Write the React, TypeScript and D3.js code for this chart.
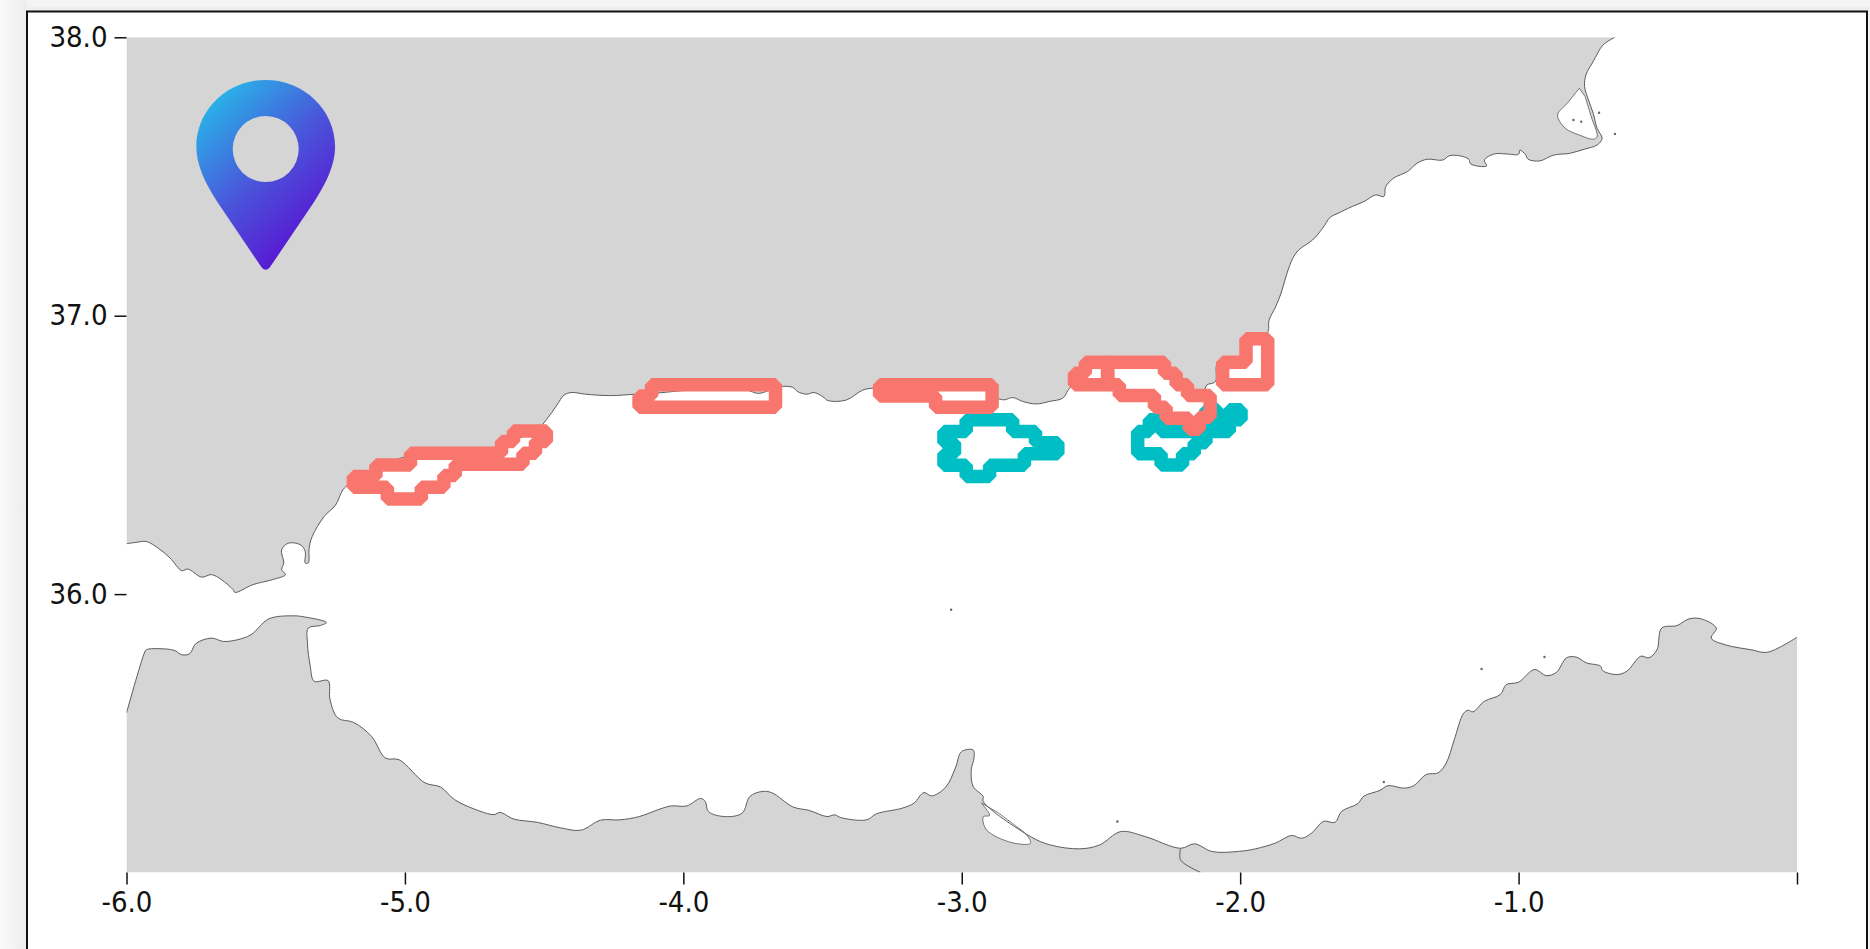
import * as d3 from "d3";
import React from "react";

type LonLat = [number, number];

// axis ticks
const lonTicks = [-6, -5, -4, -3, -2, -1, 0];
const latTicks = [36, 37, 38];

// north shore, from the top edge of the map going west
const spainCoast: LonLat[] = [
  [-0.654, 38.0], [-0.697, 37.972], [-0.732, 37.913], [-0.758, 37.865], [-0.763, 37.823], [-0.749, 37.775],
  [-0.732, 37.727], [-0.718, 37.673], [-0.7, 37.637], [-0.718, 37.613], [-0.761, 37.599], [-0.817, 37.583],
  [-0.874, 37.577], [-0.924, 37.556], [-0.966, 37.562], [-0.974, 37.577], [-0.995, 37.595], [-1.0, 37.58],
  [-1.044, 37.581], [-1.087, 37.581], [-1.123, 37.559], [-1.115, 37.538], [-1.172, 37.545], [-1.179, 37.562],
  [-1.215, 37.575], [-1.25, 37.574], [-1.272, 37.559], [-1.328, 37.562], [-1.364, 37.548], [-1.399, 37.518],
  [-1.449, 37.494], [-1.477, 37.464], [-1.484, 37.428], [-1.513, 37.434], [-1.555, 37.41], [-1.598, 37.392],
  [-1.648, 37.368], [-1.676, 37.354], [-1.704, 37.314], [-1.74, 37.272], [-1.79, 37.236], [-1.811, 37.206],
  [-1.832, 37.152], [-1.853, 37.081], [-1.875, 37.027], [-1.896, 36.985], [-1.903, 36.937], [-1.991, 36.901],
  [-2.003, 36.841], [-2.081, 36.829], [-2.089, 36.763], [-2.12, 36.751], [-2.135, 36.722], [-2.207, 36.757],
  [-2.254, 36.805], [-2.278, 36.829], [-2.428, 36.815], [-2.494, 36.823], [-2.565, 36.805], [-2.607, 36.746],
  [-2.619, 36.731], [-2.637, 36.704], [-2.685, 36.692], [-2.733, 36.683], [-2.781, 36.692], [-2.817, 36.706],
  [-2.847, 36.698], [-2.871, 36.704], [-2.889, 36.74], [-3.092, 36.734], [-3.313, 36.74], [-3.355, 36.733],
  [-3.415, 36.697], [-3.48, 36.695], [-3.499, 36.709], [-3.531, 36.724], [-3.557, 36.718], [-3.589, 36.727],
  [-3.608, 36.743], [-3.653, 36.745], [-3.73, 36.721], [-3.774, 36.733], [-3.967, 36.733], [-4.108, 36.721],
  [-4.172, 36.718], [-4.262, 36.713], [-4.351, 36.718], [-4.403, 36.724], [-4.428, 36.715], [-4.454, 36.679],
  [-4.492, 36.626], [-4.531, 36.584], [-4.608, 36.554], [-4.672, 36.527], [-4.8, 36.506], [-4.992, 36.494],
  [-5.095, 36.458], [-5.197, 36.398], [-5.223, 36.374], [-5.249, 36.32], [-5.29, 36.279], [-5.333, 36.207],
  [-5.344, 36.165], [-5.347, 36.112], [-5.358, 36.112], [-5.358, 36.153], [-5.375, 36.177], [-5.418, 36.183],
  [-5.443, 36.159], [-5.435, 36.112], [-5.443, 36.088], [-5.429, 36.07], [-5.475, 36.052], [-5.546, 36.034],
  [-5.61, 36.006], [-5.617, 36.016], [-5.659, 36.052], [-5.695, 36.07], [-5.73, 36.061], [-5.78, 36.09],
  [-5.801, 36.084], [-5.844, 36.13], [-5.886, 36.165], [-5.929, 36.189], [-5.964, 36.186], [-6, 36.181],
];

// south shore, from the left edge of the map going east
const africaCoast: LonLat[] = [
  [-6, 35.573], [-5.936, 35.788], [-5.929, 35.8], [-5.886, 35.804], [-5.829, 35.798], [-5.801, 35.782],
  [-5.773, 35.786], [-5.751, 35.822], [-5.695, 35.842], [-5.652, 35.83], [-5.602, 35.836], [-5.553, 35.854],
  [-5.489, 35.911], [-5.404, 35.922], [-5.361, 35.918], [-5.282, 35.898], [-5.304, 35.887], [-5.347, 35.878],
  [-5.35, 35.824], [-5.34, 35.741], [-5.326, 35.687], [-5.276, 35.689], [-5.269, 35.621], [-5.241, 35.555],
  [-5.184, 35.539], [-5.12, 35.489], [-5.07, 35.411], [-5.021, 35.405], [-4.928, 35.322], [-4.872, 35.307],
  [-4.822, 35.262], [-4.751, 35.228], [-4.68, 35.208], [-4.659, 35.216], [-4.609, 35.192], [-4.524, 35.18],
  [-4.439, 35.16], [-4.368, 35.152], [-4.297, 35.188], [-4.229, 35.189], [-4.158, 35.201], [-4.087, 35.227],
  [-4.044, 35.239], [-3.988, 35.239], [-3.938, 35.266], [-3.921, 35.255], [-3.91, 35.219], [-3.853, 35.201],
  [-3.789, 35.213], [-3.761, 35.273], [-3.718, 35.291], [-3.683, 35.287], [-3.605, 35.235], [-3.548, 35.223],
  [-3.484, 35.201], [-3.456, 35.207], [-3.434, 35.197], [-3.342, 35.189], [-3.306, 35.211], [-3.214, 35.231],
  [-3.172, 35.249], [-3.136, 35.287], [-3.108, 35.275], [-3.058, 35.306], [-3.023, 35.375], [-3.001, 35.434],
  [-2.959, 35.44], [-2.956, 35.411], [-2.966, 35.369], [-2.959, 35.309], [-2.923, 35.273], [-2.923, 35.255],
  [-2.753, 35.129], [-2.682, 35.099], [-2.576, 35.085], [-2.505, 35.099], [-2.429, 35.147], [-2.341, 35.129],
  [-2.214, 35.087], [-2.164, 35.103], [-2.1, 35.075], [-2.003, 35.076], [-1.945, 35.085], [-1.873, 35.106],
  [-1.815, 35.133], [-1.779, 35.123], [-1.743, 35.142], [-1.7, 35.184], [-1.66, 35.18], [-1.635, 35.22],
  [-1.578, 35.247], [-1.556, 35.274], [-1.498, 35.295], [-1.469, 35.312], [-1.412, 35.303], [-1.376, 35.312],
  [-1.332, 35.352], [-1.289, 35.358], [-1.26, 35.393], [-1.231, 35.477], [-1.198, 35.571], [-1.181, 35.583],
  [-1.164, 35.577], [-1.123, 35.615], [-1.066, 35.639], [-1.044, 35.675], [-1.001, 35.683], [-0.943, 35.729],
  [-0.9, 35.707], [-0.864, 35.719], [-0.828, 35.771], [-0.794, 35.774], [-0.756, 35.753], [-0.705, 35.741],
  [-0.698, 35.725], [-0.647, 35.711], [-0.611, 35.723], [-0.561, 35.777], [-0.532, 35.771], [-0.503, 35.8],
  [-0.486, 35.878], [-0.431, 35.887], [-0.388, 35.911], [-0.344, 35.911], [-0.29, 35.878], [-0.308, 35.842],
  [-0.258, 35.818], [-0.164, 35.8], [-0.107, 35.791], [0, 35.845],
];

// lagoons, the border line and the tiny islets
const marMenor: LonLat[] = [
  [-0.782, 37.817], [-0.825, 37.763], [-0.86, 37.721], [-0.832, 37.673], [-0.782, 37.649], [-0.732, 37.634],
  [-0.718, 37.643], [-0.739, 37.715], [-0.761, 37.787],
];
const marChica: LonLat[] = [
  [-2.93, 35.25], [-2.9, 35.205], [-2.923, 35.2], [-2.916, 35.16], [-2.888, 35.135], [-2.81, 35.105],
  [-2.753, 35.105], [-2.767, 35.135], [-2.81, 35.17], [-2.87, 35.215],
];
const moroccoBorder: LonLat[] = [[-2.214, 35.087], [-2.214, 35.045], [-2.143, 35.001]];
const islets: LonLat[] = [
  [-3.038, 35.944], [-2.441, 35.183], [-1.133, 35.731], [-0.907, 35.774], [-1.484, 35.325],
  [-0.654, 37.653], [-0.711, 37.729], [-0.803, 37.703], [-0.775, 37.697],
];

// red zones
const redZones: LonLat[][] = [
  [
    [-5.185, 36.422], [-5.104, 36.422], [-5.104, 36.464], [-4.98, 36.464], [-4.98, 36.506], [-4.653, 36.506],
    [-4.653, 36.548], [-4.61, 36.548], [-4.61, 36.586], [-4.492, 36.586], [-4.492, 36.548], [-4.531, 36.548],
    [-4.531, 36.506], [-4.576, 36.506], [-4.576, 36.466], [-4.819, 36.466], [-4.819, 36.426], [-4.86, 36.426],
    [-4.86, 36.384], [-4.941, 36.384], [-4.941, 36.342], [-5.063, 36.342], [-5.063, 36.384], [-5.185, 36.384],
  ],
  [
    [-4.114, 36.752], [-3.669, 36.752], [-3.669, 36.671], [-4.159, 36.671], [-4.159, 36.712], [-4.114, 36.712],
  ],
  [
    [-3.295, 36.752], [-2.891, 36.752], [-2.891, 36.671], [-3.094, 36.671], [-3.094, 36.712], [-3.295, 36.712],
  ],
  [
    [-2.556, 36.833], [-2.476, 36.833], [-2.476, 36.752], [-2.595, 36.752], [-2.595, 36.793], [-2.556, 36.793],
  ],
  [
    [-2.476, 36.833], [-2.272, 36.833], [-2.272, 36.793], [-2.23, 36.793], [-2.23, 36.752], [-2.189, 36.752],
    [-2.189, 36.713], [-2.108, 36.713], [-2.108, 36.635], [-2.147, 36.635], [-2.147, 36.592], [-2.183, 36.592],
    [-2.183, 36.632], [-2.266, 36.632], [-2.266, 36.671], [-2.308, 36.671], [-2.308, 36.713], [-2.434, 36.713],
    [-2.434, 36.752], [-2.476, 36.752],
  ],
  [
    [-1.979, 36.917], [-1.901, 36.917], [-1.901, 36.752], [-2.063, 36.752], [-2.063, 36.833], [-1.979, 36.833],
  ],
];

// teal zones
const tealZones: LonLat[][] = [
  [
    [-2.984, 36.626], [-2.817, 36.626], [-2.817, 36.584], [-2.735, 36.584], [-2.735, 36.544], [-2.655, 36.544],
    [-2.655, 36.504], [-2.775, 36.504], [-2.775, 36.463], [-2.9, 36.463], [-2.9, 36.422], [-2.984, 36.422],
    [-2.984, 36.463], [-3.064, 36.463], [-3.064, 36.504], [-3.026, 36.504], [-3.026, 36.544], [-3.064, 36.544],
    [-3.064, 36.584], [-2.984, 36.584],
  ],
  [
    [-2.368, 36.584], [-2.326, 36.584], [-2.326, 36.626], [-2.284, 36.626], [-2.284, 36.584], [-2.039, 36.584],
    [-2.039, 36.626], [-1.997, 36.626], [-1.997, 36.662], [-2.039, 36.662], [-2.039, 36.626], [-2.081, 36.626],
    [-2.081, 36.584], [-2.123, 36.584], [-2.123, 36.544], [-2.165, 36.544], [-2.165, 36.504], [-2.207, 36.504],
    [-2.207, 36.464], [-2.284, 36.464], [-2.284, 36.504], [-2.368, 36.504],
  ],
  [
    [-2.123, 36.584], [-2.123, 36.662], [-2.081, 36.662], [-2.081, 36.626],
  ],
];

const pinLon = -5.5;
const pinLat = 37.162;

const App: React.FC = () => {
  const ref = React.useRef<SVGSVGElement | null>(null);

  React.useEffect(() => {
    const svg = d3.select(ref.current);
    svg.selectAll("*").remove();

    const x = d3.scaleLinear().domain([-6, 0]).range([126.5, 1797]);
    const y = d3.scaleLinear().domain([35, 38]).range([872.5, 37.3]);
    const line = d3.line<LonLat>().x((d) => x(d[0])).y((d) => y(d[1]));
    const shore = d3.line<LonLat>().x((d) => x(d[0])).y((d) => y(d[1])).curve(d3.curveCatmullRom.alpha(0.5));

    const defs = svg.append("defs");
    defs.append("clipPath").attr("id", "map-clip").append("rect")
      .attr("x", x(-6)).attr("y", y(38))
      .attr("width", x(0) - x(-6)).attr("height", y(35) - y(38));
    const pinGrad = defs.append("linearGradient").attr("id", "pin-grad")
      .attr("x1", "0.12").attr("y1", "0.1").attr("x2", "0.72").attr("y2", "0.95");
    pinGrad.append("stop").attr("offset", "0").attr("stop-color", "#29b3e8");
    pinGrad.append("stop").attr("offset", "0.5").attr("stop-color", "#4a55da");
    pinGrad.append("stop").attr("offset", "1").attr("stop-color", "#5a10d2");
    const edgeGrad = defs.append("linearGradient").attr("id", "edge-grad");
    edgeGrad.append("stop").attr("offset", "0").attr("stop-color", "#fbfbfb");
    edgeGrad.append("stop").attr("offset", "1").attr("stop-color", "#ececec");

    // page and card
    svg.append("rect").attr("width", 1870).attr("height", 949).attr("fill", "#f4f4f4");
    svg.append("rect").attr("width", 27).attr("height", 949).attr("fill", "url(#edge-grad)");
    svg.append("rect").attr("y", 7).attr("x", 27).attr("width", 1843).attr("height", 5).attr("fill", "#eeeeee");
    svg.append("rect").attr("x", 27).attr("y", 11.5).attr("width", 1840).attr("height", 960)
      .attr("fill", "#fff").attr("stroke", "#111").attr("stroke-width", 2);

    const map = svg.append("g").attr("clip-path", "url(#map-clip)");

    // land
    map.append("path")
      .attr("d", `${shore(spainCoast)}L${x(-6)},${y(38)}Z`)
      .attr("fill", "#d5d5d5");
    map.append("path")
      .attr("d", `${shore(africaCoast)}L${x(0)},${y(35)}L${x(-6)},${y(35)}Z`)
      .attr("fill", "#d5d5d5");
    [marMenor, marChica].forEach((lagoon) => {
      map.append("path").attr("d", shore(lagoon) + "Z").attr("fill", "#fff")
        .attr("stroke", "#666").attr("stroke-width", 0.9);
    });
    [spainCoast, africaCoast, moroccoBorder].forEach((coast) => {
      map.append("path").attr("d", shore(coast)).attr("fill", "none")
        .attr("stroke", "#5c5c5c").attr("stroke-width", 1);
    });
    map.selectAll("circle.islet").data(islets).join("circle").attr("class", "islet")
      .attr("cx", (d) => x(d[0])).attr("cy", (d) => y(d[1])).attr("r", 1.2).attr("fill", "#666");

    // zones
    const drawZones = (zones: LonLat[][], color: string) => {
      zones.forEach((zone) => {
        map.append("path").attr("d", line(zone) + "Z").attr("fill", "none")
          .attr("stroke", color).attr("stroke-width", 13.5)
          .attr("stroke-linejoin", "bevel").attr("stroke-linecap", "round");
      });
    };
    drawZones(tealZones, "#00BFC4");
    drawZones(redZones, "#F8766D");

    // map pin
    svg.append("path")
      .attr("transform", `translate(${x(pinLon)},${y(pinLat)})`)
      .attr("fill", "url(#pin-grad)").attr("fill-rule", "evenodd")
      .attr("d", "M0,-190.7C38.5,-190.7 69.4,-160.5 69.4,-124C69.4,-106 61,-88 48,-68L4,-3Q0,1.5 -4,-3L-48,-68C-61,-88 -69.4,-106 -69.4,-124C-69.4,-160.5 -38.5,-190.7 0,-190.7Z"
        + "M0,-154.5A33,33 0 1,0 0,-88.5A33,33 0 1,0 0,-154.5Z");

    // axes
    const label = (d: d3.NumberValue) => d3.format(".1f")(+d).replace("\u2212", "-");
    const xAxis = d3.axisBottom(x).tickValues(lonTicks).tickSize(12).tickPadding(7)
      .tickFormat((d) => (+d === 0 ? "" : label(d)));
    const yAxis = d3.axisLeft(y).tickValues(latTicks).tickSize(12).tickPadding(7)
      .tickFormat(label);
    const gx = svg.append("g").attr("transform", `translate(0,${y(35)})`).call(xAxis);
    const gy = svg.append("g").attr("transform", `translate(${x(-6)},0)`).call(yAxis);
    [gx, gy].forEach((g) => {
      g.select(".domain").remove();
      g.selectAll("line").attr("stroke", "#111").attr("stroke-width", 1.5);
      g.selectAll("text")
        .attr("fill", "#111")
        .attr("font-family", "'DejaVu Sans Condensed', 'DejaVu Sans', sans-serif")
        .attr("font-size", 29);
    });
  }, []);

  return (
    <svg
      ref={ref}
      width={1870}
      height={949}
      style={{ position: "absolute", left: 0, top: 0, display: "block" }}
    />
  );
};

export default App;
